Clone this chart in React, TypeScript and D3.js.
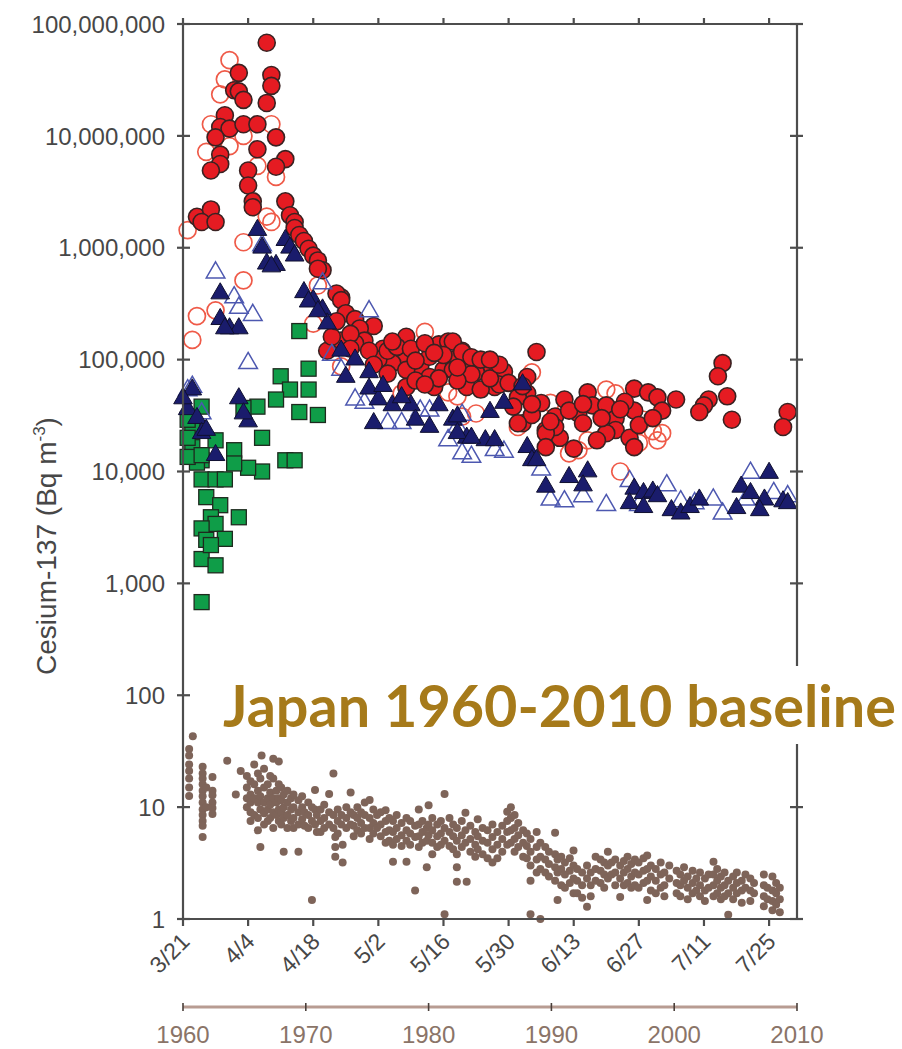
import React from 'react';
import * as d3 from 'd3';

// Fukushima 2011 air samples (Bq m-3) vs Japan 1960-2010 baseline
const yTicks = [1, 10, 100, 1000, 1e4, 1e5, 1e6, 1e7, 1e8];
const dateTicks = ['3/21', '4/4', '4/18', '5/2', '5/16', '5/30', '6/13', '6/27', '7/11', '7/25'];
const yearTicks = [1960, 1970, 1980, 1990, 2000, 2010];

// red filled circles
const redFilled: [string, number][] = [
  ['4/8', 6.8e7], ['4/2', 3.66e7], ['4/9', 3.5e7], ['4/9', 2.8e7], ['4/1', 2.56e7], ['4/2', 2.5e7],
  ['4/3', 2.1e7], ['4/8', 1.97e7], ['3/30', 1.53e7], ['3/29', 1.2e7], ['3/31', 1.16e7], ['4/3', 1.27e7],
  ['4/6', 1.27e7], ['3/28', 9.7e6], ['4/10', 9.7e6], ['4/6', 7.6e6], ['3/29', 6.8e6], ['3/29', 5.6e6],
  ['3/27', 4.9e6], ['4/12', 6.2e6], ['4/10', 5.3e6], ['4/4', 4.9e6], ['4/4', 3.6e6], ['4/5', 2.6e6],
  ['4/5', 2.3e6], ['4/12', 2.6e6], ['3/24', 1.89e6], ['3/27', 2.2e6], ['3/25', 1.7e6], ['3/28', 1.7e6],
  ['4/13', 1.95e6], ['4/14', 1.7e6], ['4/14', 1.5e6], ['4/15', 1.3e6], ['4/16', 1.15e6], ['4/17', 9.8e5],
  ['4/18', 8.5e5], ['4/19', 7.7e5], ['4/20', 6.3e5], ['4/19', 6.5e5],
  ['4/24', 3.6e5], ['4/23', 3.9e5], ['4/24', 3.4e5], ['4/25', 2.6e5], ['4/27', 2.3e5], ['5/1', 2.0e5],
  ['4/28', 1.9e5], ['5/8', 1.6e5], ['4/21', 1.2e5], ['4/24', 1.48e5], ['4/29', 1.48e5], ['5/3', 1.25e5],
  ['5/7', 1.09e5], ['5/15', 1.37e5], ['5/17', 1.45e5], ['5/20', 1.2e5], ['5/11', 8.7e4], ['5/16', 8.1e4],
  ['5/21', 9.3e4], ['5/25', 8.1e4], ['5/29', 7.8e4], ['6/5', 1.17e5], ['6/3', 5.0e4], ['6/6', 4.1e4],
  ['6/9', 3.1e4], ['6/7', 2.35e4], ['6/2', 2.7e4], ['5/5', 9.3e4], ['5/8', 8.1e4], ['5/2', 1.0e5],
  ['4/27', 1.4e5], ['4/22', 1.6e5], ['5/8', 5.7e4], ['5/18', 1.0e5], ['5/23', 7.7e4], ['5/27', 5.7e4],
  ['5/21', 5.7e4], ['5/14', 5.7e4], ['5/4', 1.2e5], ['5/13', 1.06e5], ['5/18', 1.45e5], ['5/20', 1.17e5],
  ['5/18', 8.1e4], ['5/22', 7.4e4], ['5/28', 6.0e4], ['6/3', 7.0e4], ['5/24', 5.4e4], ['6/11', 4.4e4],
  ['6/16', 5.1e4], ['6/17', 3.9e4], ['6/14', 3.3e4], ['6/20', 3.9e4], ['6/26', 5.5e4], ['6/29', 5.1e4],
  ['7/1', 4.6e4], ['7/5', 4.4e4], ['7/2', 3.5e4], ['6/26', 3.5e4], ['6/22', 2.97e4], ['6/22', 2.35e4],
  ['6/25', 2.0e4], ['6/26', 1.65e4], ['6/20', 2.2e4], ['6/18', 1.9e4], ['6/13', 1.6e4], ['6/10', 2.0e4],
  ['6/9', 2.5e4], ['6/7', 2.2e4], ['6/7', 1.65e4], ['6/4', 3.2e4], ['6/1', 2.7e4], ['6/12', 3.5e4],
  ['6/15', 2.7e4], ['7/15', 9.3e4], ['7/14', 7.1e4], ['7/16', 4.7e4], ['7/17', 2.9e4], ['7/12', 4.4e4],
  ['7/11', 3.9e4], ['7/10', 3.4e4], ['7/29', 3.4e4], ['7/28', 2.5e4],
  ['5/6', 1.3e5], ['5/9', 1.25e5], ['5/10', 9.8e4], ['5/12', 1.4e5], ['5/13', 7.0e4], ['5/16', 1.1e5],
  ['5/19', 6.5e4], ['5/22', 1.05e5], ['5/24', 1.0e5], ['5/26', 6.8e4], ['5/28', 9.0e4], ['5/30', 6.2e4],
  ['6/1', 4.6e4], ['6/2', 5.8e4], ['5/31', 3.8e4], ['4/26', 1.7e5], ['4/30', 1.2e5], ['5/1', 9.0e4],
  ['5/4', 7.5e4], ['5/10', 6.5e4], ['5/15', 6.8e4], ['6/8', 2.8e4], ['6/19', 3.0e4], ['6/24', 4.2e4],
  ['6/27', 2.6e4], ['6/30', 3.0e4], ['4/23', 2.2e5], ['4/26', 1.25e5], ['5/5', 1.45e5], ['5/12', 6.0e4],
  ['5/14', 1.15e5], ['5/19', 8.5e4], ['5/26', 1.0e5], ['6/4', 4.0e4], ['6/15', 4.0e4], ['6/23', 3.6e4],
];

// red open circles
const redOpen: [string, number][] = [
  ['3/31', 4.75e7], ['3/30', 3.2e7], ['3/29', 2.35e7], ['3/27', 1.27e7], ['3/26', 7.2e6], ['3/31', 8.1e6],
  ['4/3', 1.0e7], ['4/6', 5.4e6], ['4/10', 4.3e6], ['4/9', 1.27e7], ['4/8', 1.9e6], ['4/9', 1.7e6],
  ['4/3', 1.12e6], ['3/22', 1.44e6], ['4/3', 5.1e5], ['3/24', 2.45e5], ['3/23', 1.5e5], ['3/28', 2.76e5],
  ['4/18', 2.1e5], ['4/19', 4.6e5], ['5/12', 1.77e5], ['5/26', 9.3e4], ['6/4', 7.7e4], ['5/23', 3.3e4],
  ['5/17', 5.1e4], ['6/1', 2.5e4], ['6/8', 4.1e4], ['4/24', 8.7e4], ['5/7', 5.0e4], ['6/20', 5.4e4],
  ['6/22', 5.0e4], ['6/28', 2.9e4], ['6/30', 2.3e4], ['7/2', 2.2e4], ['7/1', 1.9e4], ['6/23', 1.0e4],
  ['6/14', 1.55e4], ['6/12', 1.45e4], ['6/16', 1.9e4], ['6/27', 1.8e4], ['5/19', 4.7e4], ['5/20', 3.1e4],
];

// navy filled triangles
const navyFilled: [string, number][] = [
  ['3/29', 3.9e5], ['3/29', 2.3e5], ['3/31', 1.9e5], ['4/2', 1.9e5], ['3/30', 1.9e5], ['4/16', 4.0e5],
  ['4/18', 3.4e5], ['4/20', 2.8e5], ['4/21', 2.1e5], ['4/8', 7.2e5], ['4/10', 7.0e5], ['4/2', 4.5e4],
  ['4/4', 2.8e4], ['3/23', 5.4e4], ['3/22', 3.6e4], ['3/28', 1.4e4], ['4/6', 1.44e6], ['4/7', 1.0e6],
  ['4/9', 6.8e5], ['4/12', 1.17e6], ['4/13', 1.0e6], ['4/14', 8.5e5], ['4/17', 3.3e5], ['4/19', 2.7e5],
  ['4/24', 1.2e5], ['4/25', 7.0e4], ['4/27', 1.0e5], ['4/30', 7.7e4], ['4/30', 5.5e4], ['5/2', 4.4e4],
  ['5/1', 2.7e4], ['5/5', 3.9e4], ['5/9', 3.9e4], ['5/10', 2.9e4], ['5/13', 2.5e4], ['5/15', 3.9e4],
  ['5/18', 2.9e4], ['5/21', 2.0e4], ['5/25', 1.9e4], ['5/27', 1.9e4], ['5/26', 3.4e4], ['5/29', 4.1e4],
  ['6/2', 6.0e4], ['6/3', 1.65e4], ['6/4', 1.26e4], ['5/19', 3.1e4], ['5/19', 2.2e4], ['5/22', 2.0e4],
  ['6/5', 1.26e4], ['6/7', 7.3e3], ['6/12', 8.9e3], ['6/16', 1.0e4], ['6/15', 7.5e3], ['6/26', 7.0e3],
  ['6/28', 6.4e3], ['6/30', 6.6e3], ['7/1', 6.0e3], ['6/25', 5.2e3], ['6/28', 4.8e3], ['7/4', 4.5e3],
  ['7/6', 4.2e3], ['7/8', 4.8e3], ['7/10', 5.6e3], ['7/19', 7.3e3], ['7/21', 6.4e3], ['7/25', 9.7e3],
  ['7/24', 5.6e3], ['7/18', 4.7e3], ['7/23', 4.5e3], ['7/28', 5.4e3], ['7/29', 5.2e3], ['3/21', 4.5e4],
  ['3/24', 3.0e4], ['3/25', 2.2e4], ['3/26', 2.35e4], ['4/3', 3.3e4], ['5/3', 5.8e4], ['5/7', 4.6e4],
];

// navy open triangles
const navyOpen: [string, number][] = [
  ['3/28', 6.0e5], ['4/1', 3.6e5], ['4/2', 2.9e5], ['4/5', 2.5e5], ['4/4', 9.3e4], ['3/23', 5.7e4],
  ['3/22', 5.3e4], ['3/25', 3.3e4], ['4/20', 4.8e5], ['4/7', 1.05e6], ['4/30', 2.7e5], ['4/27', 4.4e4],
  ['4/29', 4.1e4], ['5/4', 2.7e4], ['5/7', 2.7e4], ['5/11', 3.5e4], ['5/13', 3.5e4], ['5/17', 1.9e4],
  ['5/20', 1.45e4], ['5/22', 1.35e4], ['5/27', 1.55e4], ['5/29', 1.5e4], ['6/6', 1.04e4], ['5/19', 2.5e4],
  ['4/22', 1.1e5], ['4/24', 8.1e4], ['5/20', 3.2e4], ['6/8', 5.6e3], ['6/11', 5.4e3], ['6/15', 6.0e3],
  ['6/20', 5.0e3], ['6/25', 8.2e3], ['7/3', 7.5e3], ['7/13', 5.6e3], ['7/15', 4.2e3], ['7/21', 9.7e3],
  ['7/20', 5.6e3], ['7/26', 6.4e3], ['7/29', 6.0e3], ['7/6', 5.4e3], ['6/27', 5.0e3], ['7/9', 5.2e3],
];

// green squares
const greenSquares: [string, number][] = [
  ['4/15', 1.8e5], ['4/17', 8.3e4], ['4/11', 7.1e4], ['4/17', 5.4e4], ['4/13', 5.4e4], ['4/15', 3.4e4],
  ['4/19', 3.2e4], ['4/10', 4.4e4], ['4/6', 3.8e4], ['4/3', 3.7e4], ['4/7', 2.0e4], ['4/12', 1.26e4],
  ['4/14', 1.26e4], ['4/7', 1.0e4], ['4/4', 1.08e4], ['4/1', 1.55e4], ['4/1', 1.18e4], ['3/28', 1.9e4],
  ['3/25', 3.8e4], ['3/23', 2.5e4], ['3/23', 1.65e4], ['3/25', 1.26e4], ['3/24', 1.2e4], ['3/25', 8.5e3],
  ['3/28', 8.5e3], ['3/30', 8.5e3], ['3/26', 5.9e3], ['3/29', 5.0e3], ['3/27', 3.9e3], ['4/2', 3.9e3],
  ['3/28', 3.4e3], ['3/25', 3.1e3], ['3/26', 2.45e3], ['3/30', 2.5e3], ['3/25', 1.65e3], ['3/28', 1.45e3],
  ['3/25', 6.8e2], ['3/22', 2.9e4], ['3/22', 2.0e4], ['3/22', 1.35e4], ['3/25', 1.4e4], ['3/27', 2.2e3],
];

// Japan 1960-2010 monthly baseline [year, Bq m-3]
const baseline: [number, number][] = [
  [1960.8, 43], [1960.5, 33], [1960.5, 29], [1960.5, 24], [1960.5, 21], [1960.5, 18], [1960.5, 15], [1960.5, 12.6],
  [1961.6, 23], [1961.6, 20], [1961.6, 18], [1961.6, 16], [1961.6, 14], [1961.6, 12.5], [1961.6, 11], [1961.6, 9.5],
  [1961.6, 8.5], [1961.6, 7.5], [1961.6, 6.8], [1961.6, 5.4], [1961.9, 15], [1961.9, 10],
  [1962.4, 18.6], [1962.4, 14], [1962.4, 12.8], [1962.4, 11], [1962.4, 9.8], [1962.4, 8.7],
  [1963.6, 26], [1964.3, 13], [1964.7, 21],
  [1965.2, 19], [1965.2, 15], [1965.2, 12], [1965.2, 10], [1965.5, 17], [1965.5, 13], [1965.5, 11], [1965.5, 9],
  [1965.5, 7.5], [1965.8, 24], [1965.8, 16], [1965.8, 12], [1965.8, 8.5],
  [1966.1, 20], [1966.1, 14], [1966.1, 11], [1966.1, 8], [1966.1, 6.2], [1966.4, 29], [1966.3, 18], [1966.3, 12.5],
  [1966.3, 9.5], [1966.3, 4.4], [1966.6, 22], [1966.6, 15], [1966.6, 11], [1966.6, 8.8], [1966.6, 7],
  [1966.9, 16], [1966.9, 12], [1966.9, 9.5], [1966.9, 7.5],
  [1967.1, 19], [1967.1, 13.5], [1967.1, 10.5], [1967.1, 8], [1967.35, 27], [1967.35, 18], [1967.35, 12],
  [1967.35, 9], [1967.35, 6.5], [1967.6, 14], [1967.6, 11], [1967.6, 8.5], [1967.8, 25.6], [1967.8, 16],
  [1967.8, 12], [1967.8, 9.5], [1967.8, 7.5],
  [1968.0, 15], [1968.0, 11.5], [1968.0, 9], [1968.0, 7], [1968.2, 13], [1968.2, 10], [1968.2, 8], [1968.2, 4.0],
  [1968.5, 14], [1968.5, 11], [1968.5, 8.5], [1968.5, 6.5], [1968.8, 12], [1968.8, 9.5], [1968.8, 7.5],
  [1969.0, 13], [1969.0, 10], [1969.0, 8], [1969.0, 6.5], [1969.4, 11.5], [1969.4, 9], [1969.4, 7], [1969.4, 4.0],
  [1969.7, 12.5], [1969.7, 10], [1969.7, 7.8], [1969.9, 9], [1969.9, 6.8],
  [1970.2, 11], [1970.2, 8.5], [1970.2, 6.5], [1970.5, 10], [1970.5, 7.5], [1970.5, 1.48], [1970.75, 14.2],
  [1970.75, 9.5], [1970.75, 7], [1970.9, 8.5], [1970.9, 6],
  [1971.2, 9.5], [1971.2, 7.5], [1971.2, 6], [1971.5, 10.5], [1971.5, 8], [1971.5, 6.5], [1971.9, 13.1],
  [1971.9, 9], [1971.9, 7],
  [1972.25, 20], [1972.25, 8.5], [1972.25, 6.5], [1972.4, 5.4], [1972.4, 4.4], [1972.4, 3.6], [1972.6, 9.5],
  [1972.6, 7.5], [1972.6, 5.8], [1973.0, 4.6], [1973.0, 3.2], [1972.9, 8.5], [1972.9, 7],
  [1973.3, 10], [1973.3, 8], [1973.3, 6.5], [1973.65, 13.5], [1973.65, 9], [1973.65, 7], [1973.9, 8.5],
  [1973.9, 6.8], [1973.9, 5.5],
  [1974.2, 10], [1974.2, 8], [1974.2, 6.2], [1974.5, 9], [1974.5, 7.2], [1974.5, 5.8], [1974.8, 11],
  [1974.8, 8.5], [1974.8, 6.5],
  [1975.2, 11.6], [1975.2, 8], [1975.2, 6.5], [1975.2, 5.2], [1975.5, 9.5], [1975.5, 7.2], [1975.5, 5.8],
  [1975.8, 8.5], [1975.8, 6.5],
  [1976.1, 9], [1976.1, 7], [1976.1, 5.5], [1976.5, 9.4], [1976.5, 7.5], [1976.5, 6], [1976.5, 4.8],
  [1976.8, 8], [1976.8, 6.2], [1976.8, 5],
  [1977.1, 7.5], [1977.1, 6], [1977.1, 4.6], [1977.1, 3.25], [1977.4, 8.5], [1977.4, 6.5], [1977.4, 5.2],
  [1977.8, 7.2], [1977.8, 5.6], [1977.8, 4.5],
  [1978.2, 8], [1978.2, 6.2], [1978.2, 5], [1978.2, 3.25], [1978.5, 7.5], [1978.5, 5.8], [1978.5, 4.6],
  [1978.9, 6.8], [1978.9, 5.4], [1978.9, 1.8],
  [1979.2, 9.5], [1979.2, 7], [1979.2, 5.5], [1979.2, 4.4], [1979.5, 7.5], [1979.5, 6], [1979.5, 4.8],
  [1979.85, 6.5], [1979.85, 5], [1979.85, 2.9],
  [1980.0, 10.4], [1980.0, 7], [1980.0, 5.6], [1980.3, 8], [1980.3, 6.2], [1980.3, 4.8], [1980.3, 3.8],
  [1980.7, 7], [1980.7, 5.5], [1980.7, 4.4],
  [1981.0, 7.5], [1981.0, 5.8], [1981.0, 4.6], [1981.3, 13.1], [1981.3, 6.5], [1981.3, 5], [1981.3, 1.1],
  [1981.7, 8], [1981.7, 6], [1981.7, 4.5],
  [1982.0, 7], [1982.0, 5.5], [1982.0, 4.2], [1982.3, 6.5], [1982.3, 5], [1982.3, 3.8], [1982.3, 2.9],
  [1982.3, 2.15], [1982.7, 7.5], [1982.7, 5.6], [1982.7, 4.4],
  [1983.0, 8.9], [1983.0, 6.2], [1983.0, 4.8], [1983.1, 2.15], [1983.4, 6.8], [1983.4, 5.2], [1983.4, 4],
  [1983.8, 6], [1983.8, 4.6], [1983.8, 3.6],
  [1984.0, 7.8], [1984.0, 5.5], [1984.0, 4.2], [1984.4, 6.5], [1984.4, 5], [1984.4, 3.8], [1984.8, 6.2],
  [1984.8, 4.8], [1984.8, 3.5],
  [1985.2, 7], [1985.2, 5.4], [1985.2, 4.2], [1985.2, 3.2], [1985.6, 6], [1985.6, 4.6], [1985.6, 3.5],
  [1986.0, 6.8], [1986.0, 5.2], [1986.0, 4], [1986.4, 9.1], [1986.4, 7.5], [1986.4, 6], [1986.4, 4.6],
  [1986.7, 10], [1986.7, 8], [1986.7, 6.2], [1986.7, 4.8],
  [1987.0, 8.5], [1987.0, 6.5], [1987.0, 5.2], [1987.0, 4], [1987.3, 7.2], [1987.3, 5.6], [1987.3, 4.4],
  [1987.7, 6.2], [1987.7, 4.8], [1987.7, 3.6],
  [1988.0, 5.8], [1988.0, 4.5], [1988.0, 3.5], [1988.3, 5.2], [1988.3, 4], [1988.3, 3], [1988.3, 2.2],
  [1988.3, 1.1], [1988.8, 6.0], [1988.8, 4.4], [1988.8, 3.4], [1988.8, 2.6],
  [1989.1, 4.8], [1989.1, 3.6], [1989.1, 2.8], [1989.1, 1.0], [1989.5, 4.4], [1989.5, 3.4], [1989.5, 2.6],
  [1989.8, 4], [1989.8, 3.1], [1989.8, 2.4],
  [1990.3, 5.9], [1990.3, 3.8], [1990.3, 2.9], [1990.3, 2.2], [1990.5, 3.4], [1990.5, 2.6], [1990.5, 1.48],
  [1990.8, 3.6], [1990.8, 2.8], [1990.8, 2],
  [1991.1, 3.2], [1991.1, 2.5], [1991.1, 1.9], [1991.5, 3.5], [1991.5, 2.7], [1991.5, 2.1], [1991.8, 4.1],
  [1991.8, 3], [1991.8, 2.3], [1991.8, 1.7],
  [1992.1, 2.8], [1992.1, 2.2], [1992.1, 1.7], [1992.5, 2.6], [1992.5, 2], [1992.5, 1.55], [1992.9, 3],
  [1992.9, 2.3], [1992.9, 1.29],
  [1993.2, 2.6], [1993.2, 2], [1993.2, 1.6], [1993.6, 3.6], [1993.6, 2.8], [1993.6, 2.2],
  [1994.0, 3.4], [1994.0, 2.7], [1994.0, 2.1], [1994.3, 3.2], [1994.3, 2.5], [1994.3, 1.9], [1994.6, 4.0],
  [1994.6, 3], [1994.6, 2.3], [1994.9, 3.2], [1994.9, 2.5],
  [1995.2, 3.4], [1995.2, 2.6], [1995.2, 2], [1995.6, 3], [1995.6, 2.3], [1995.6, 1.57], [1995.9, 3.3],
  [1995.9, 2.6], [1995.9, 2],
  [1996.2, 3.6], [1996.2, 2.8], [1996.2, 2.1], [1996.5, 3.1], [1996.5, 2.4], [1996.5, 1.9], [1996.8, 3.4],
  [1996.8, 2.6], [1996.8, 2],
  [1997.1, 3.2], [1997.1, 2.5], [1997.1, 1.9], [1997.5, 3.5], [1997.5, 2.7], [1997.5, 2.1], [1997.8, 3.7],
  [1997.8, 2.8], [1997.8, 2.2], [1997.8, 1.48],
  [1998.1, 3], [1998.1, 2.4], [1998.1, 1.8], [1998.5, 2.8], [1998.5, 2.2], [1998.5, 1.7], [1998.9, 3.2],
  [1998.9, 2.5], [1998.9, 1.9],
  [1999.2, 2.6], [1999.2, 2], [1999.2, 1.6], [1999.6, 3], [1999.6, 2.3],
  [2000.2, 2.7], [2000.2, 2.1], [2000.2, 1.7], [2000.5, 2.5], [2000.5, 2], [2000.5, 1.6], [2000.8, 2.9],
  [2000.8, 2.2],
  [2001.1, 2.4], [2001.1, 1.9], [2001.1, 1.5], [2001.5, 2.7], [2001.5, 2.1], [2001.5, 1.7], [2001.8, 2.3],
  [2001.8, 1.8],
  [2002.1, 2.6], [2002.1, 2], [2002.1, 1.6], [2002.5, 2.3], [2002.5, 1.8], [2002.5, 1.45], [2002.8, 2.5],
  [2002.8, 1.9],
  [2003.2, 3.25], [2003.2, 2.5], [2003.2, 2], [2003.2, 1.6], [2003.5, 2.8], [2003.5, 2.2], [2003.5, 1.7],
  [2003.8, 2.4], [2003.8, 1.9], [2003.8, 1.5],
  [2004.1, 2.6], [2004.1, 2], [2004.1, 1.6], [2004.4, 2.2], [2004.4, 1.7], [2004.4, 1.09], [2004.8, 2.4],
  [2004.8, 1.9], [2004.8, 1.5],
  [2005.1, 2.6], [2005.1, 2.1], [2005.1, 1.7], [2005.5, 2.2], [2005.5, 1.8], [2005.5, 1.4], [2005.8, 2.5],
  [2005.8, 1.9],
  [2006.2, 2.3], [2006.2, 1.8], [2006.2, 1.45], [2006.5, 2.1], [2006.5, 1.7],
  [2007.3, 2.5], [2007.3, 2.0], [2007.3, 1.6], [2007.3, 1.3], [2007.6, 1.9], [2007.6, 1.5],
  [2008.0, 2.4], [2008.0, 1.8], [2008.0, 1.45], [2008.0, 1.2], [2008.3, 2.1], [2008.3, 1.7], [2008.3, 1.35],
  [2008.6, 1.9], [2008.6, 1.5], [2008.6, 1.15],
];

const parseDay = d3.timeParse('%m/%d/%Y');
const toDate = (s: string) => parseDay(s + '/2011') as Date;

export default function App() {
  const w = 902, h = 1049;
  const left = 183, right = 797, top = 24, bottom = 919;

  const x = d3.scaleTime().domain([toDate('3/21'), toDate('7/31')]).range([left, right]);
  const xYear = d3.scaleLinear().domain([1960, 2010]).range([left, right]);
  const y = d3.scaleLog().domain([1, 1e8]).range([bottom, top]);
  const fmt = d3.format(',');
  const tri = d3.symbol(d3.symbolTriangle, 150)() as string;

  const axisColor = '#4d4d4d';
  const labelColor = '#474747';
  const font = "'Liberation Sans', Arial, Helvetica, sans-serif";

  return (
    <svg width={w} height={h} style={{ display: 'block' }} fontFamily={font}>
      <style>{`body{margin:0}`}</style>
      <rect width={w} height={h} fill="#fff" />

      {/* baseline dots */}
      <g fill="#7e6459">
        {baseline.map((d, i) => (
          <circle key={i} cx={xYear(d[0])} cy={y(d[1])} r={4} />
        ))}
      </g>

      <g fill="none" stroke="#ef5a48" strokeWidth={1.7}>
        {redOpen.map((d, i) => (
          <circle key={i} cx={x(toDate(d[0]))} cy={y(d[1])} r={8.5} />
        ))}
      </g>

      <g fill="#0f9d48" stroke="#1e2a1e" strokeWidth={1.3}>
        {greenSquares.map((d, i) => (
          <rect key={i} x={x(toDate(d[0])) - 7.5} y={y(d[1]) - 7.5} width={15} height={15} />
        ))}
      </g>

      <g fill="#e51b22" stroke="#3a2222" strokeWidth={1.6}>
        {redFilled.map((d, i) => (
          <circle key={i} cx={x(toDate(d[0]))} cy={y(d[1])} r={8.5} />
        ))}
      </g>

      <g fill="none" stroke="#4d58b0" strokeWidth={1.5}>
        {navyOpen.map((d, i) => (
          <path key={i} d={tri} transform={`translate(${x(toDate(d[0]))},${y(d[1])})`} />
        ))}
      </g>

      <g fill="#1a1c6c" stroke="#101030" strokeWidth={1}>
        {navyFilled.map((d, i) => (
          <path key={i} d={tri} transform={`translate(${x(toDate(d[0]))},${y(d[1])})`} />
        ))}
      </g>

      {/* frame */}
      <g stroke={axisColor} strokeWidth={2.2} fill="none">
        <line x1={left} x2={left} y1={top} y2={bottom} />
        <line x1={right} x2={right} y1={top} y2={bottom} />
        <line x1={left} x2={right} y1={top} y2={top} />
        <line x1={left} x2={right} y1={bottom} y2={bottom} />
        {yTicks.map((t) => (
          <g key={t}>
            <line x1={left - 6} x2={left + 7} y1={y(t)} y2={y(t)} />
            <line x1={right - 7} x2={right + 6} y1={y(t)} y2={y(t)} />
          </g>
        ))}
        {dateTicks.map((t) => (
          <g key={t}>
            <line x1={x(toDate(t))} x2={x(toDate(t))} y1={bottom} y2={bottom + 7} />
            <line x1={x(toDate(t))} x2={x(toDate(t))} y1={top} y2={top - 6} />
          </g>
        ))}
      </g>

      <g fill={labelColor} fontSize={24} textAnchor="end">
        {yTicks.map((t) => (
          <text key={t} x={left - 18} y={y(t)} dy="0.36em">{fmt(t)}</text>
        ))}
      </g>

      <g fill={labelColor} fontSize={23} textAnchor="end">
        {dateTicks.map((t) => (
          <text key={t} transform={`translate(${x(toDate(t)) + 8},${bottom + 24}) rotate(-45)`}>{t}</text>
        ))}
      </g>

      <text transform={`translate(56,546) rotate(-90)`} textAnchor="middle" fontSize={28} fill={labelColor}>
        Cesium-137 (Bq m<tspan fontSize={17} dy={-11}>-3</tspan><tspan dy={11}>)</tspan>
      </text>

      {/* year axis for baseline */}
      <line x1={left} x2={right} y1={1007} y2={1007} stroke="#b89c92" strokeWidth={3} />
      {yearTicks.map((t) => (
        <g key={t}>
          <line x1={xYear(t)} x2={xYear(t)} y1={1003} y2={1011} stroke="#4a3f3a" strokeWidth={1.6} />
          <text x={xYear(t)} y={1043} textAnchor="middle" fontSize={24} fill="#8a7468">{t}</text>
        </g>
      ))}

      {/* annotation */}
      <rect x={218} y={666} width={684} height={78} fill="#fff" />
      <text x={223} y={727} fontFamily="Lato, 'Open Sans', sans-serif" fontWeight="bold" fontSize={57}
        fill="#a67a1a" textLength={673} lengthAdjust="spacingAndGlyphs">
        Japan 1960-2010 baseline
      </text>
    </svg>
  );
}
